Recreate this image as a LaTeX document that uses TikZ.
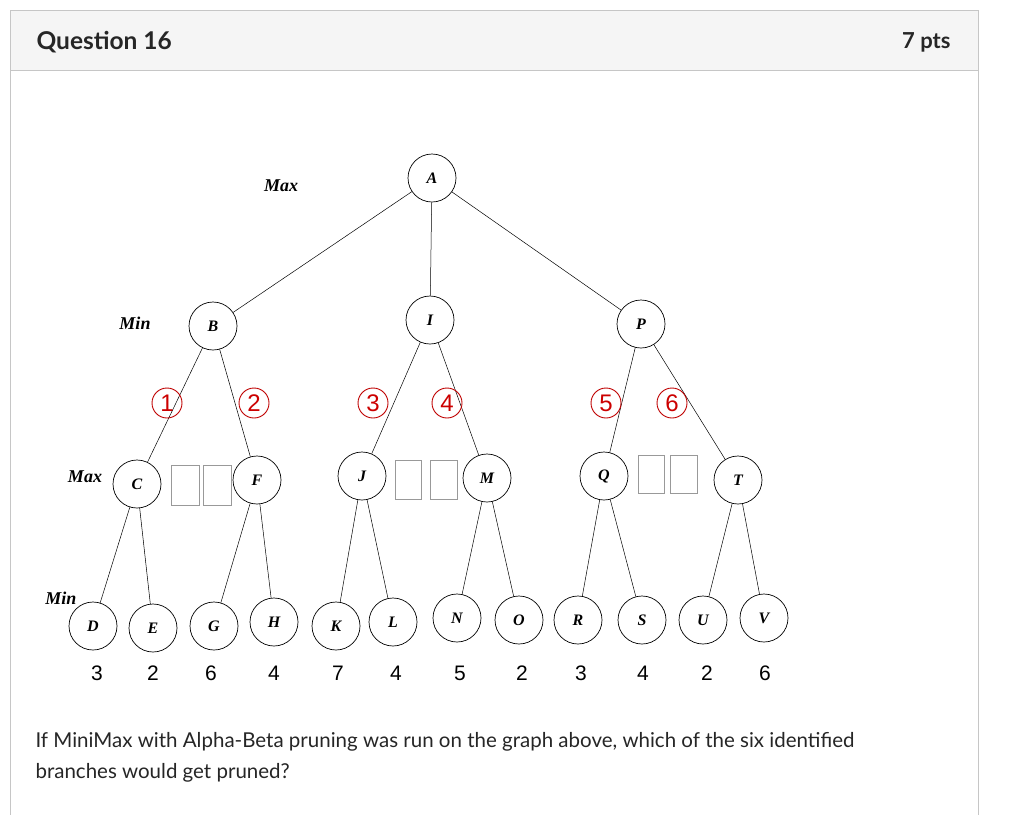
\documentclass[tikz,border=0pt]{standalone}
\usepackage{fontspec}
\setmainfont{Liberation Serif}
\newfontfamily\lato{Lato}
\newfontfamily\arial{Liberation Sans}
\begin{document}
\begin{tikzpicture}[x=1pt,y=-1pt,
  nd/.style={circle,draw,line width=0.7pt,minimum size=48pt,inner sep=0pt,font=\fontsize{16}{16}\selectfont\bfseries\itshape},
  lv/.style={font=\fontsize{18}{18}\selectfont\bfseries\itshape},
  cn/.style={circle,draw=red!75!black,text=red!80!black,line width=0.9pt,minimum size=30pt,inner sep=0pt,font=\arial\fontsize{24}{24}\selectfont},
  bx/.style={draw=gray!80,line width=0.7pt},
  num/.style={font=\arial\fontsize{21}{21}\selectfont},
  ed/.style={line width=0.5pt}]
\useasboundingbox (0,0) rectangle (1024,815);
\fill[white] (0,0) rectangle (1024,815);
\draw[draw=gray!45,fill=gray!8] (10,10) rectangle (978,70);
\draw[gray!45] (10,70) -- (10,815) (978,70) -- (978,815);
\node[anchor=west,font=\lato\bfseries\fontsize{24.5}{24.5}\selectfont,text=black!85] at (33,42) {Question 16};
\node[anchor=east,font=\lato\bfseries\fontsize{22}{22}\selectfont,text=black!85] at (954,42) {7 pts};
\node[anchor=west,font=\lato\fontsize{20.5}{20.5}\selectfont,text=black!85] at (32,742) {If MiniMax with Alpha-Beta pruning was run on the graph above, which of the six identified};
\node[anchor=west,font=\lato\fontsize{20.5}{20.5}\selectfont,text=black!85] at (32,773) {branches would get pruned?};
% nodes
\node[nd] (A) at (432,178) {A};
\node[nd] (B) at (213,326) {B};
\node[nd] (I) at (430,320) {I};
\node[nd] (P) at (641,324) {P};
\node[nd] (C) at (137,484) {C};
\node[nd] (F) at (257,480) {F};
\node[nd] (J) at (362,476) {J};
\node[nd] (M) at (487,478) {M};
\node[nd] (Q) at (604,476) {Q};
\node[nd] (T) at (738,480) {T};
\node[nd] (D) at (93,626) {D};
\node[nd] (E) at (153,628) {E};
\node[nd] (G) at (214,626) {G};
\node[nd] (H) at (274,622) {H};
\node[nd] (K) at (336,626) {K};
\node[nd] (L) at (393,622) {L};
\node[nd] (N) at (457,618) {N};
\node[nd] (O) at (519,620) {O};
\node[nd] (R) at (578,620) {R};
\node[nd] (S) at (642,620) {S};
\node[nd] (U) at (703,620) {U};
\node[nd] (V) at (764,618) {V};
\foreach \a/\b in {A/B,A/I,A/P,B/C,B/F,I/J,I/M,P/Q,P/T,C/D,C/E,F/G,F/H,J/K,J/L,M/N,M/O,Q/R,Q/S,T/U,T/V}
  \draw[ed] (\a) -- (\b);
% level labels
\node[lv] (l1) at (281,186) {Max};
\node[lv] (l2) at (135,323) {Min};
\node[lv] (l3) at (85,477) {Max};
\node[lv] (l4) at (61,598) {Min};
% circled numbers
\node[cn] (c1) at (167,403) {1};
\node[cn] (c2) at (254,403) {2};
\node[cn] (c3) at (373,403) {3};
\node[cn] (c4) at (447,403) {4};
\node[cn] (c5) at (606,403) {5};
\node[cn] (c6) at (672,403) {6};
% boxes
\draw[bx] (171,465) rectangle (199,505);
\draw[bx] (203,465) rectangle (231,505);
\draw[bx] (395,460) rectangle (421,499);
\draw[bx] (430,460) rectangle (457,499);
\draw[bx] (638,455) rectangle (664,493);
\draw[bx] (670,455) rectangle (697,493);
% values
\foreach \x/\v [count=\i] in {97/3,153/2,211/6,274/4,338/7,396/4,460/5,522/2,581/3,643/4,707/2,765/6}
  \node[num] (v\i) at (\x,673) {\v};
\end{tikzpicture}
\end{document}
